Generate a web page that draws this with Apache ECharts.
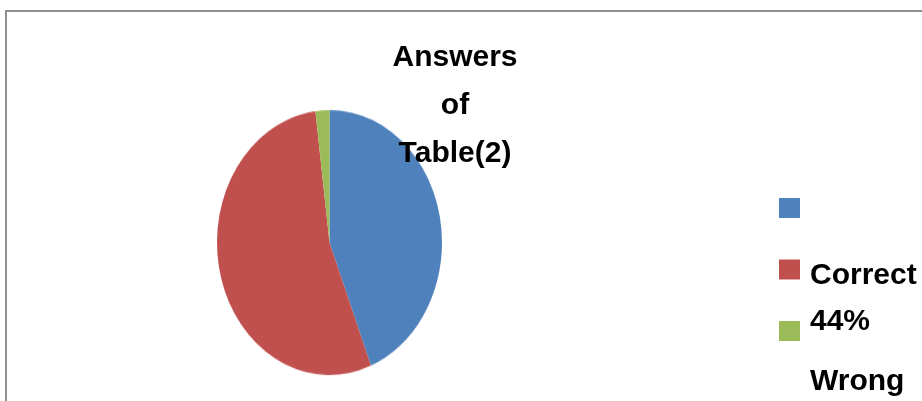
<!DOCTYPE html>
<html>
<head>
<meta charset="utf-8">
<script src="https://cdn.jsdelivr.net/npm/echarts@6/dist/echarts.min.js"></script>
<style>
  html, body { margin: 0; padding: 0; background: #ffffff; }
  #wrap { position: relative; width: 922px; height: 401px; overflow: hidden; background: #fff; }
  #pie { position: absolute; left: 0; top: 0; width: 922px; height: 401px;
         transform: scaleY(1.1778); transform-origin: 0 242.5px; }
  #main { position: absolute; left: 0; top: 0; width: 922px; height: 401px; }
</style>
</head>
<body>
<div id="wrap">
  <div id="pie"></div>
  <div id="main"></div>
</div>
<script>
// ---- data ----
var sliceNames = ['s1', 's2', 's3'];
var sliceValues = [44, 54, 2];
var sliceColors = ['#4F81BD', '#C0504D', '#9BBB59'];
var titleLines = ['Answers', 'of', 'Table(2)'];
var legendLines = ['Correct', '44%', 'Wrong'];

var FONT = '"Liberation Sans", Arial, sans-serif';

function pieData(op) {
  return sliceNames.map(function (n, i) {
    return { name: n, value: sliceValues[i], itemStyle: { color: sliceColors[i], opacity: op } };
  });
}

// Pie (stretched vertically into an ellipse)
var pieChart = echarts.init(document.getElementById('pie'), null, { renderer: 'canvas' });
pieChart.setOption({
  animation: false,
  series: [{
    type: 'pie',
    center: [329.5, 242.5],
    radius: [0, 112.5],
    startAngle: 90,
    clockwise: true,
    label: { show: false },
    labelLine: { show: false },
    silent: true,
    itemStyle: { borderWidth: 0 },
    data: pieData(1)
  }]
});

// Overlay: frame, title, legend
var chart = echarts.init(document.getElementById('main'), null, { renderer: 'canvas' });
var legendCenters = [275.5, 321.5, 382];
chart.setOption({
  animation: false,
  backgroundColor: 'transparent',
  title: {
    text: titleLines.join('\n'),
    left: 455,
    top: 34,
    padding: 0,
    textAlign: 'center',
    textStyle: {
      fontFamily: FONT,
      fontWeight: 'bold',
      fontSize: 30,
      lineHeight: 48,
      color: '#000'
    }
  },
  legend: {
    orient: 'vertical',
    left: 779,
    top: 198,
    itemWidth: 21,
    itemHeight: 20,
    itemGap: 41.5,
    icon: 'rect',
    padding: 0,
    formatter: function () { return ''; },
    textStyle: { fontSize: 8 },
    data: sliceNames.map(function (n, i) {
      return { name: n, itemStyle: { color: sliceColors[i], opacity: 1 } };
    })
  },
  graphic: [
    {
      type: 'rect',
      silent: true,
      shape: { x: 6, y: 11, width: 1000, height: 500 },
      style: { fill: 'none', stroke: '#8e8e8e', lineWidth: 2 }
    }
  ].concat(legendLines.map(function (t, i) {
    return {
      type: 'text',
      silent: true,
      x: 810,
      y: legendCenters[i],
      style: {
        text: t,
        fontFamily: FONT,
        fontWeight: 'bold',
        fontSize: 30,
        fill: '#000',
        verticalAlign: 'middle'
      }
    };
  })),
  series: [{
    type: 'pie',
    center: [329.5, 242.5],
    radius: [0, 0],
    silent: true,
    label: { show: false },
    labelLine: { show: false },
    itemStyle: { opacity: 0 },
    data: pieData(0)
  }]
});
</script>
</body>
</html>
